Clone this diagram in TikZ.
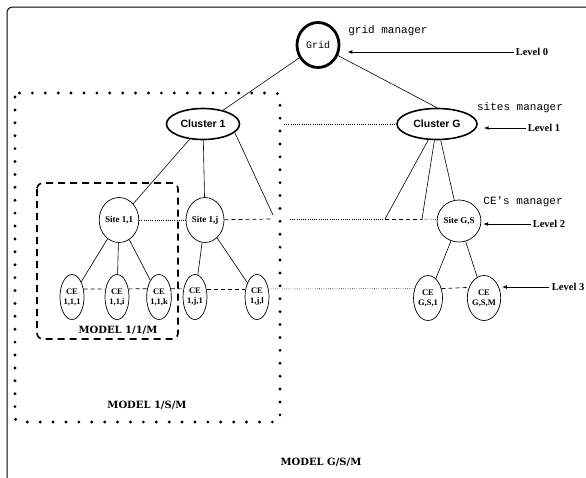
\documentclass[tikz,border=0pt]{standalone}
\usepackage{fontspec}
\setmainfont{Liberation Serif}
\newfontfamily\clusterfont{Liberation Sans}
\newfontfamily\managerfont{Liberation Mono}
\newfontfamily\modelfont{DejaVu Serif}
\usepackage{tikz}
\usetikzlibrary{shapes,positioning,calc}
\usetikzlibrary{shapes.geometric, arrows}
\usetikzlibrary{arrows.meta}
\tikzstyle{gridnode} = [ellipse, draw=black, line width=2.8pt, minimum width=42pt, minimum height=45pt, inner sep=0pt, font=\managerfont\fontsize{10}{11}\selectfont]
\tikzstyle{clusternode} = [ellipse, draw=black, line width=1.6pt, minimum width=73pt, minimum height=31pt, inner sep=0pt, font=\clusterfont\bfseries\fontsize{10.5}{11}\selectfont]
\tikzstyle{sitenode} = [ellipse, draw=black, line width=0.7pt, minimum width=38pt, minimum height=45pt, inner sep=0pt, font=\bfseries\fontsize{9}{9}\selectfont]
\tikzstyle{cenode} = [ellipse, draw=black, line width=0.7pt, minimum width=24pt, minimum height=45pt, inner sep=0pt, align=center, font=\bfseries\fontsize{8.5}{10}\selectfont]
\tikzstyle{manager} = [inner sep=0pt, font=\managerfont\fontsize{11}{12}\selectfont]
\tikzstyle{level} = [inner sep=2pt, font=\bfseries\fontsize{10.5}{11}\selectfont]
\tikzstyle{model} = [inner sep=0pt, font=\modelfont\bfseries\fontsize{10}{11}\selectfont]
\tikzstyle{link} = [line width=0.6pt]
\tikzstyle{dotlink} = [line width=0.6pt, dash pattern=on 0.6pt off 1.6pt]
\tikzstyle{dashlink} = [line width=0.7pt, dash pattern=on 4pt off 3pt]
\tikzstyle{arrow} = [line width=0.7pt,->,>=latex]

\begin{document}
\begin{tikzpicture}[x={(1pt,0)}, y={(0,-1pt)}]
\useasboundingbox (0,0) rectangle (586,477);
% frame and model boxes
\draw[line width=1pt, rounded corners=5pt] (600,7) -- (7,7) -- (7,490);
\draw[line width=3.2pt, line cap=round, dash pattern=on 0pt off 12.9pt, rounded corners=4pt] (15,93) rectangle (280,422);
\draw[line width=1.6pt, dash pattern=on 7pt off 5pt, rounded corners=6pt] (37,183) rectangle (178,339);

% tree
\node (grid) at (318,45) [gridnode] {Grid};
\node (clu1) at (203,124) [clusternode] {Cluster 1};
\node (cluG) at (437,124) [clusternode, minimum width=80pt] {Cluster G};
\node (s11) at (119,220) [sitenode] {Site 1,1};
\node (s1j) at (205,220) [sitenode] {Site 1,j};
\node (sGS) at (459,221) [sitenode, minimum width=42pt, minimum height=42pt] {Site G,S};
\node (ce111) at (72,297) [cenode] {CE\\1,1,1};
\node (ce11i) at (117,297) [cenode] {CE\\1,1,i};
\node (ce11k) at (159,297) [cenode] {CE\\1,1,k};
\node (ce1j1) at (195,297) [cenode] {CE\\1,j,1};
\node (ce1jl) at (257,297) [cenode] {CE\\1,j,l};
\node (ceGS1) at (428,298) [cenode, minimum width=29pt] {CE\\G,S,1};
\node (ceGSM) at (484,298) [cenode, minimum width=29pt] {CE\\G,S,M};
\coordinate (c1end) at (273,215);
\coordinate (c1dot) at (284,124);
\coordinate (row2a) at (271,219);
\coordinate (row2b) at (290,219);
\coordinate (cGa) at (385,219);
\coordinate (cGb) at (422,219);

\draw[link] (grid) -- (clu1);
\draw[link] (grid) -- (cluG.north);
\draw[link] (clu1) -- (s11);
\draw[link] (clu1) -- (s1j);
\draw[link] (clu1.-15) -- (c1end);
\draw[link] (cluG) -- (cGa);
\draw[link] (cluG) -- (cGb);
\draw[link] (cluG) -- (sGS);
\draw[link] (s11) -- (ce111);
\draw[link] (s11) -- (ce11i);
\draw[link] (s11) -- (ce11k);
\draw[link] (s1j) -- (ce1j1);
\draw[link] (s1j) -- (ce1jl);
\draw[link] (sGS) -- (ceGS1);
\draw[link] (sGS) -- (ceGSM);

% same level links
\draw[dotlink] (c1dot) -- (cluG);
\draw[dotlink] (s11) -- (s1j);
\draw[dashlink] (s1j) -- (row2a);
\draw[dotlink] (row2b) -- (cGa);
\draw[dashlink] (cGa) -- (cGb);
\draw[dotlink] (cGb) -- (sGS);
\draw[dashlink] (ce111.35) -- (ce11i.145);
\draw[dashlink] (ce11i.35) -- (ce11k.145);
\draw[dashlink] (ce11k.35) -- (ce1j1.145);
\draw[dashlink] (ce1j1.35) -- (ce1jl.145);
\draw[dotlink] (ce1jl.35) -- (ceGS1.145);
\draw[dashlink] (ceGS1.35) -- (ceGSM.145);

% managers and levels
\node (gridmgr) at (388,31) [manager] {grid manager};
\node (sitesmgr) at (520,108) [manager] {sites manager};
\node (cemgr) at (523,202) [manager] {CE's manager};
\node (lv0) at (532,52) [level] {Level 0};
\node (lv1) at (544,128) [level] {Level 1};
\node (lv2) at (549,224) [level] {Level 2};
\node (lv3) at (585,287) [level, anchor=east, inner sep=0.5pt] {Level 3};
\draw[arrow] (lv0.west) -- ([xshift=7pt]grid.east |- lv0.west);
\draw[arrow] (lv1.west) -- ([xshift=6pt]cluG.east |- lv1.west);
\draw[arrow] (lv2.west) -- ([xshift=2pt]sGS.east |- lv2.west);
\draw[arrow] ([xshift=-2pt]lv3.west) -- ([xshift=1pt]ceGSM.east |- lv3.west);

% models
\node (m11) at (118,330) [model] {MODEL 1/1/M};
\node (m1s) at (147,405) [model] {MODEL 1/S/M};
\node (mgs) at (321,462) [model] {MODEL G/S/M};
\end{tikzpicture}
\end{document}
